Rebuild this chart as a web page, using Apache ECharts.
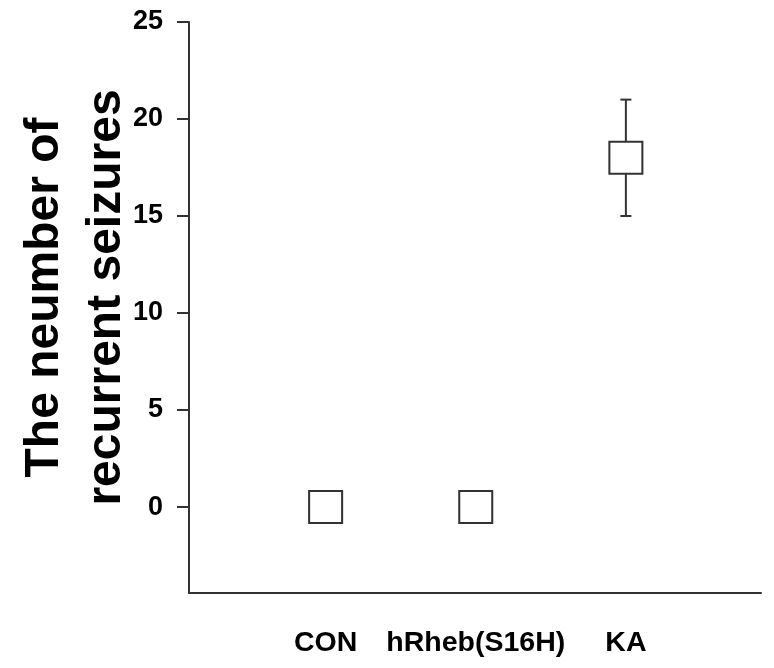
<!DOCTYPE html>
<html>
<head>
<meta charset="utf-8">
<script src="https://cdn.jsdelivr.net/npm/echarts@6/dist/echarts.min.js"></script>
<style>
html,body{margin:0;padding:0;background:#fff;}
#c{width:774px;height:668px;}
</style>
</head>
<body>
<div id="c"></div>
<script>
const categories = ['CON', 'hRheb(S16H)', 'KA'];
const positions = [1, 2, 3];
const means = [0, 0, 18];
const lowerErr = [0, 0, 15];
const upperErr = [0, 0, 21];
const yTicks = [0, 5, 10, 15, 20, 25];
const yTitle = 'The neumber of\nrecurrent seizures';

const FONT = "'Liberation Sans', Arial, sans-serif";
const chart = echarts.init(document.getElementById('c'), null, {renderer: 'canvas'});

const pointData = positions.map((p, i) => [p, means[i]]);
const errData = positions.map((p, i) => [p, lowerErr[i], upperErr[i]]);

chart.setOption({
  backgroundColor: '#ffffff',
  animation: false,
  grid: {left: 189, right: 13, top: 22, bottom: 75, containLabel: false},
  xAxis: {
    type: 'value',
    min: 0.09,
    max: 3.9,
    splitLine: {show: false},
    axisLine: {show: true, onZero: false, lineStyle: {color: '#333', width: 2}},
    axisTick: {show: false},
    axisLabel: {
      customValues: positions,
      margin: 36,
      color: '#000',
      fontFamily: FONT,
      fontWeight: 'bold',
      fontSize: 28.5,
      formatter: function (v) {
        const idx = positions.indexOf(v);
        return idx >= 0 ? categories[idx] : '';
      }
    }
  },
  yAxis: {
    type: 'value',
    min: -4.43,
    max: 25,
    splitLine: {show: false},
    axisLine: {show: true, onZero: false, lineStyle: {color: '#333', width: 2}},
    axisTick: {show: true, customValues: yTicks, length: 12, lineStyle: {color: '#333', width: 2}},
    axisLabel: {
      customValues: yTicks,
      margin: 26,
      color: '#000',
      fontFamily: FONT,
      fontWeight: 'bold',
      fontSize: 27
    },
    name: yTitle,
    nameLocation: 'middle',
    nameRotate: 90,
    nameGap: 51,
    nameMoveOverlap: false,
    nameTextStyle: {
      color: '#000',
      fontFamily: FONT,
      fontWeight: 'bold',
      fontSize: 48,
      lineHeight: 62,
      align: 'center',
      padding: [0, 0, 0, 20]
    }
  },
  series: [
    {
      type: 'custom',
      z: 1,
      data: errData,
      renderItem: function (params, api) {
        const x = api.value(0);
        const lo = api.value(1);
        const hi = api.value(2);
        if (lo === hi) return null;
        const pLo = api.coord([x, lo]);
        const pHi = api.coord([x, hi]);
        const cap = 5.5;
        const style = {stroke: '#333', lineWidth: 2};
        return {
          type: 'group',
          children: [
            {type: 'line', shape: {x1: pLo[0], y1: pLo[1], x2: pHi[0], y2: pHi[1]}, style: style},
            {type: 'line', shape: {x1: pLo[0] - cap, y1: pLo[1], x2: pLo[0] + cap, y2: pLo[1]}, style: style},
            {type: 'line', shape: {x1: pHi[0] - cap, y1: pHi[1], x2: pHi[0] + cap, y2: pHi[1]}, style: style}
          ]
        };
      }
    },
    {
      type: 'scatter',
      z: 5,
      symbol: 'rect',
      symbolSize: [33, 32],
      data: pointData,
      itemStyle: {color: '#ffffff', borderColor: '#333', borderWidth: 2, opacity: 1}
    }
  ]
});
</script>
</body>
</html>
